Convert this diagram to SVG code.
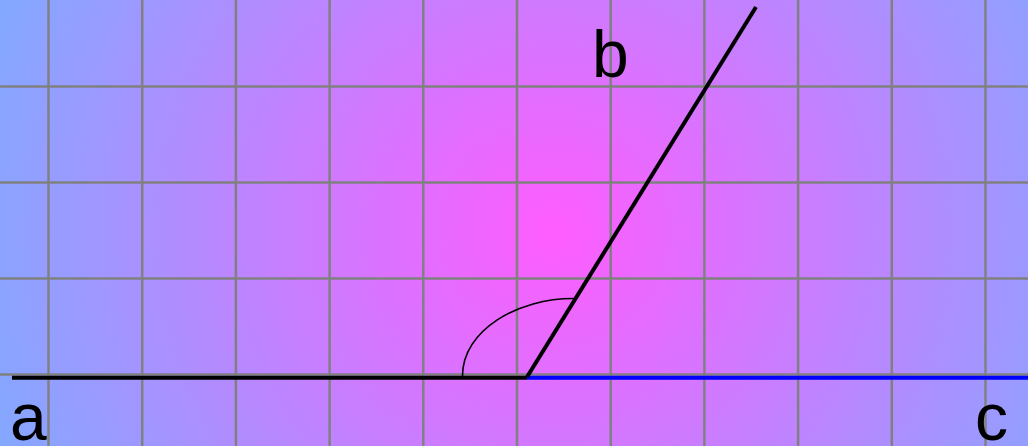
<svg xmlns="http://www.w3.org/2000/svg" width="1028" height="446" viewBox="0 0 1028 446">
<defs>
<radialGradient id="bg" gradientUnits="userSpaceOnUse" cx="555" cy="232" r="610">
<stop offset="0" stop-color="#ff5cff"/>
<stop offset="1" stop-color="#80aaff"/>
</radialGradient>
<style>
.grid line{stroke:#808080;stroke-width:2.5}
.lbl{font-family:"Liberation Sans",Arial,sans-serif;font-size:66px;fill:#000}
</style>
</defs>
<rect width="1028" height="446" fill="url(#bg)"/>
<g class="grid" id="grid">
<line x1="48.5" y1="0" x2="48.5" y2="446"/>
<line x1="142.2" y1="0" x2="142.2" y2="446"/>
<line x1="235.9" y1="0" x2="235.9" y2="446"/>
<line x1="329.6" y1="0" x2="329.6" y2="446"/>
<line x1="423.3" y1="0" x2="423.3" y2="446"/>
<line x1="517" y1="0" x2="517" y2="446"/>
<line x1="610.7" y1="0" x2="610.7" y2="446"/>
<line x1="704.4" y1="0" x2="704.4" y2="446"/>
<line x1="798.1" y1="0" x2="798.1" y2="446"/>
<line x1="891.8" y1="0" x2="891.8" y2="446"/>
<line x1="985.5" y1="0" x2="985.5" y2="446"/>
<line x1="0" y1="86.5" x2="1028" y2="86.5"/>
<line x1="0" y1="182.5" x2="1028" y2="182.5"/>
<line x1="0" y1="278.5" x2="1028" y2="278.5"/>
<line x1="0" y1="374.5" x2="1028" y2="374.5"/>
</g>
<g id="connectors">
<line id="ray-a" x1="12" y1="377.8" x2="527" y2="377.8" stroke="#000" stroke-width="4"/>
<line id="ray-c" x1="527" y1="377.8" x2="1028" y2="377.8" stroke="#0000ff" stroke-width="4"/>
<line id="ray-b" x1="527" y1="377" x2="756" y2="7" stroke="#000" stroke-width="4"/>
<path id="angle-arc" d="M462.5,376 C462.5,330 518,298 574.5,298.5" fill="none" stroke="#000" stroke-width="1.6"/>
</g>
<g id="label-a"><text class="lbl" x="10" y="440">a</text></g>
<g id="label-b"><text class="lbl" x="592" y="77">b</text></g>
<g id="label-c"><text class="lbl" x="975" y="440">c</text></g>
</svg>
